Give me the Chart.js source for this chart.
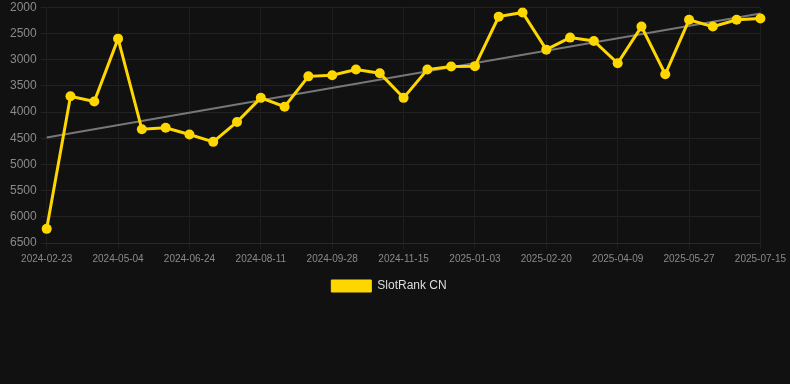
<!DOCTYPE html>
<html>
<head>
<meta charset="utf-8">
<script src="https://cdn.jsdelivr.net/npm/chart.js@4.4.0/dist/chart.umd.min.js"></script>
<style>
    html, body { margin: 0; padding: 0; background: #111111; overflow: hidden; }
    #wrap { width: 790px; height: 306px; position: relative; margin-top: -4px; }
</style>
</head>
<body>
<div id="wrap"><canvas id="rankChart"></canvas></div>
<script>
// dates of each rank sample
var dates = [
    "2024-02-23", "2024-03-15", "2024-04-08", "2024-05-04", "2024-05-21", "2024-06-07",
    "2024-06-24", "2024-07-10", "2024-07-26", "2024-08-11", "2024-08-27", "2024-09-12",
    "2024-09-28", "2024-10-14", "2024-10-30", "2024-11-15", "2024-12-01", "2024-12-17",
    "2025-01-03", "2025-01-19", "2025-02-04", "2025-02-20", "2025-03-08", "2025-03-24",
    "2025-04-09", "2025-04-25", "2025-05-11", "2025-05-27", "2025-06-12", "2025-06-28",
    "2025-07-15"
];
var rankCN = [
    6230, 3700, 3800, 2600, 4330, 4300,
    4430, 4570, 4190, 3730, 3900, 3320,
    3300, 3190, 3260, 3730, 3190, 3130,
    3125, 2180, 2100, 2810, 2580, 2645,
    3070, 2370, 3280, 2240, 2370, 2240,
    2215
];
var trendStart = 4486;
var trendEnd = 2120;
var yTicks = [2000, 2500, 3000, 3500, 4000, 4500, 5000, 5500, 6000, 6500];

var trend = dates.map(function(d, i) {
    if (i === 0) return trendStart;
    if (i === dates.length - 1) return trendEnd;
    return null;
});

var ctx = document.getElementById("rankChart").getContext("2d");

new Chart(ctx, {
    type: "line",
    data: {
        labels: dates,
        datasets: [{
            label: "SlotRank CN",
            data: rankCN,
            borderColor: "#ffd700",
            backgroundColor: "#ffd700",
            borderWidth: 3,
            pointRadius: 5,
            pointHoverRadius: 6,
            pointBackgroundColor: "#ffd700",
            pointBorderWidth: 0,
            tension: 0,
            order: 1
        }, {
            label: "trend",
            data: trend,
            borderColor: "#777777",
            borderWidth: 2,
            pointRadius: 0,
            spanGaps: true,
            fill: false,
            order: 2
        }]
    },
    options: {
        responsive: true,
        maintainAspectRatio: false,
        animation: false,
        layout: { padding: { left: 6, right: 18, top: 0, bottom: 0 } },
        scales: {
            y: {
                reverse: true,
                min: 2000,
                max: 6500,
                afterBuildTicks: function(axis) {
                    axis.ticks = yTicks.map(function(v) { return { value: v }; });
                },
                grid: { color: "#222222", drawTicks: true, tickLength: 6 },
                border: { display: false },
                ticks: {
                    color: "#8a8a8a",
                    font: { family: "Liberation Sans", size: 12 },
                    padding: 4,
                    callback: function(v) { return String(v); }
                }
            },
            x: {
                grid: { color: "#1e1e1e", tickLength: 6 },
                border: { color: "#2a2a2a" },
                ticks: {
                    color: "#8a8a8a",
                    font: { family: "Liberation Sans", size: 10 },
                    maxRotation: 0,
                    autoSkip: true,
                    maxTicksLimit: 11,
                    padding: 4
                }
            }
        },
        plugins: {
            legend: {
                position: "bottom",
                labels: {
                    color: "#dddddd",
                    font: { family: "Liberation Sans", size: 12 },
                    boxWidth: 40,
                    boxHeight: 12,
                    padding: 11,
                    generateLabels: function(chart) {
                        return [{
                            text: "SlotRank CN",
                            fillStyle: "#ffd700",
                            strokeStyle: "#ffd700",
                            lineWidth: 1,
                            hidden: false,
                            datasetIndex: 0,
                            fontColor: "#dddddd"
                        }];
                    }
                }
            },
            tooltip: { enabled: false }
        }
    }
});
</script>
</body>
</html>
